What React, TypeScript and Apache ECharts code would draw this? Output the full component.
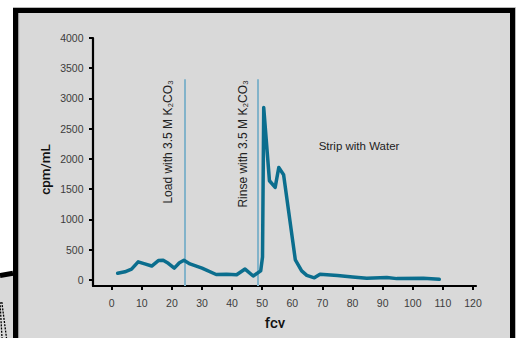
import React, { useEffect, useRef } from "react";
import * as echarts from "echarts";

const fcv = [2, 4.4, 6.6, 8.8, 11, 13.3, 15.5, 17.1, 18.8, 20.8, 22.5, 24, 26, 30, 34.7, 38.2, 41.5, 44.3, 47, 49.5, 50.1, 50.5, 52.4, 54.3, 55.5, 57.1, 61, 63.1, 64.8, 67.3, 69.2, 75, 80, 84.7, 91.4, 94.7, 103.5, 108.8];
const cpm = [110, 135, 180, 300, 265, 230, 320, 325, 275, 195, 285, 325, 265, 195, 90, 95, 85, 180, 65, 150, 380, 2850, 1640, 1530, 1860, 1740, 330, 150, 75, 35, 95, 75, 50, 30, 40, 22, 28, 10];

const xTicks = [0, 10, 20, 30, 40, 50, 60, 70, 80, 90, 100, 110, 120];
const yTicks = [0, 500, 1000, 1500, 2000, 2500, 3000, 3500, 4000];

const markerX = [24.2, 48.4];
const markerTop = 3320;
const markerLabels = ["Load with 3.5 M K₂CO₃", "Rinse with 3.5 M K₂CO₃"];
const stripLabel = "Strip with Water";
const xName = "fcv";
const yName = "cpm/mL";

export default function App() {
  const ref = useRef<HTMLDivElement>(null);
  useEffect(() => {
    if (!ref.current) return;
    const chart = echarts.init(ref.current, null, { renderer: "svg" });
    const tickFont = "'Liberation Sans Narrow', 'Liberation Sans', Arial, sans-serif";
    const annFont = "'Liberation Sans', Arial, sans-serif";
    const X_MIN = -6.2;
    const X_MAX = 121;
    const Y_MIN = -100;
    const Y_MAX = 4000;
    chart.setOption({
      animation: false,
      backgroundColor: "#ffffff",
      grid: { left: 93, right: 43, top: 38, bottom: 52, containLabel: false },
      xAxis: {
        type: "value",
        min: X_MIN,
        max: X_MAX,
        splitLine: { show: false },
        axisLine: { show: true, onZero: false, lineStyle: { color: "#000", width: 2.2 } },
        axisTick: { show: true, customValues: xTicks, length: 4, lineStyle: { color: "#000", width: 2 } },
        axisLabel: { customValues: xTicks, formatter: (v: number) => String(v), color: "#3c3c3c", fontSize: 10.5, fontFamily: tickFont, margin: 11 },
      },
      yAxis: {
        type: "value",
        min: Y_MIN,
        max: Y_MAX,
        splitLine: { show: false },
        axisLine: { show: true, onZero: false, lineStyle: { color: "#000", width: 2.2 } },
        axisTick: { show: true, customValues: yTicks, length: 4, lineStyle: { color: "#000", width: 2 } },
        axisLabel: { customValues: yTicks, formatter: (v: number) => String(v), color: "#3c3c3c", fontSize: 10.5, fontFamily: tickFont, margin: 9.5 },
      },
      series: [
        {
          type: "line",
          data: [],
          silent: true,
          markLine: {
            silent: true,
            symbol: ["none", "none"],
            label: { show: false },
            lineStyle: { color: "#82b3ca", width: 2, type: "solid" },
            data: markerX.map((x) => [{ coord: [x, Y_MIN] }, { coord: [x, markerTop] }]),
          },
        },
        {
          type: "line",
          data: fcv.map((x, i) => [x, cpm[i]]),
          showSymbol: false,
          symbol: "none",
          lineStyle: { color: "#0b6e8e", width: 3.5, join: "round", cap: "round" },
          itemStyle: { color: "#0b6e8e" },
          z: 5,
        },
      ],
      graphic: [
        { type: "polyline", z: -10, shape: { points: [[13, 7.5], [515.5, 7.5], [515.5, 338]] }, style: { stroke: "#b8b8b8", lineWidth: 1, fill: null } },
        { type: "rect", z: -9, shape: { x: 13, y: 8, width: 502, height: 340 }, style: { fill: "#000" } },
        { type: "rect", z: -8, shape: { x: 18.5, y: 13, width: 491.5, height: 330 }, style: { fill: "#d9d9d9" } },
        { type: "line", z: -7, shape: { x1: 19, y1: 13, x2: 19, y2: 338 }, style: { stroke: "#c6c6c6", lineWidth: 1 } },
        { type: "polygon", z: -9, shape: { points: [[0, 275.5], [13, 273.3], [13, 338], [0, 338]] }, style: { fill: "#d9d9d9" } },
        { type: "line", z: -8, shape: { x1: 0, y1: 275.5, x2: 13, y2: 273.3 }, style: { stroke: "#000", lineWidth: 5 } },
        { type: "line", z: -8, shape: { x1: 0, y1: 302, x2: 2, y2: 338 }, style: { stroke: "#000", lineWidth: 1.3, lineDash: [2, 1.2] } },
        { type: "line", z: -8, shape: { x1: 1.8, y1: 302, x2: 6.5, y2: 338 }, style: { stroke: "#000", lineWidth: 1.3, lineDash: [2, 1.2] } },
        {
          type: "text", z: 20, x: 167.8, y: 80, rotation: Math.PI / 2,
          style: { text: markerLabels[0], fill: "#222", font: `12px ${annFont}`, align: "right", verticalAlign: "middle" },
        },
        {
          type: "text", z: 20, x: 242.7, y: 80, rotation: Math.PI / 2,
          style: { text: markerLabels[1], fill: "#222", font: `12px ${annFont}`, align: "right", verticalAlign: "middle" },
        },
        {
          type: "text", z: 20, x: 359, y: 146.3,
          style: { text: stripLabel, fill: "#222", font: `11.5px ${annFont}`, align: "center", verticalAlign: "middle" },
        },
        {
          type: "text", z: 20, x: 44.5, y: 169.5, rotation: Math.PI / 2,
          style: { text: yName, fill: "#111", font: `500 13.5px Roboto, sans-serif`, align: "center", verticalAlign: "middle" },
        },
        {
          type: "text", z: 20, x: 275, y: 322.5,
          style: { text: xName, fill: "#111", font: `500 15px Roboto, sans-serif`, align: "center", verticalAlign: "middle" },
        },
      ],
    });
    return () => chart.dispose();
  }, []);
  return (
    <div
      ref={ref}
      style={{ position: "fixed", left: 0, top: 0, width: 519, height: 338 }}
    />
  );
}
